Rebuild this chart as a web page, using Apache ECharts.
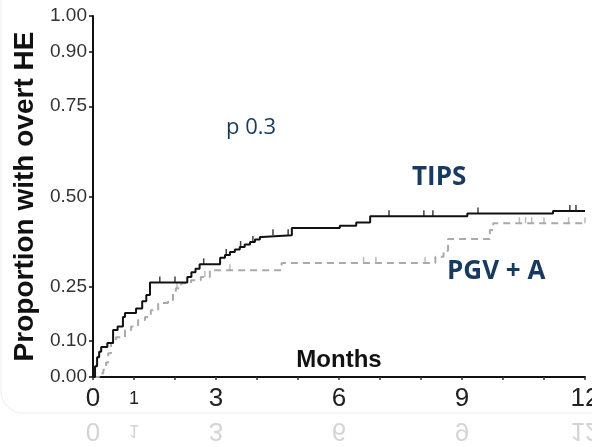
<!DOCTYPE html>
<html>
<head>
<meta charset="utf-8">
<script src="https://cdn.jsdelivr.net/npm/echarts@6/dist/echarts.min.js"></script>
<style>
  html, body { margin: 0; background: #fff; }
  #chart { width: 592px; height: 447px; }
</style>
</head>
<body>
<div id="chart"></div>
<script>
// Kaplan-Meier style cumulative incidence
const tipsTimes = [0, 0.05, 0.1, 0.15, 0.2, 0.35, 0.49, 0.6, 0.73, 0.78, 1.05, 1.2, 1.3, 1.39, 2.3, 2.4, 2.5, 2.6,
  3.1, 3.22, 3.34, 3.46, 3.58, 3.7, 3.83, 3.95, 4.07, 4.12, 4.85, 6.02, 6.42, 6.76, 9.13, 11.22, 12];
const tipsValues = [0, 0.03, 0.055, 0.07, 0.083, 0.094, 0.13, 0.14, 0.166, 0.177, 0.19, 0.21, 0.227, 0.262, 0.277, 0.29, 0.3, 0.312,
  0.33, 0.338, 0.346, 0.353, 0.36, 0.367, 0.374, 0.381, 0.388, 0.393, 0.413, 0.419, 0.428, 0.445, 0.453, 0.46, 0.46];
const tipsCensored = [1.63, 2.0, 2.7, 3.25, 3.6, 3.9, 4.39, 4.76, 7.22, 8.07, 8.29, 9.39, 11.63, 11.78];

const pgvTimes = [0, 0.15, 0.25, 0.32, 0.37, 0.44, 0.56, 0.78, 0.93, 1.1, 1.27, 1.41, 1.59, 1.83, 1.95, 2.02, 2.15, 2.39,
  2.63, 2.85, 4.6, 8.35, 8.55, 8.66, 9.68, 9.76, 12];
const pgvValues = [0, 0.01, 0.02, 0.04, 0.066, 0.094, 0.11, 0.13, 0.14, 0.158, 0.166, 0.185, 0.205, 0.213, 0.232, 0.246, 0.26, 0.268,
  0.277, 0.296, 0.316, 0.333, 0.35, 0.382, 0.407, 0.426, 0.426];
const pgvCensored = [2.05, 2.73, 3.34, 6.6, 6.9, 8.1, 10.4, 10.55, 10.7, 11.0, 11.6, 12.0];

const yTicks = [0, 0.1, 0.25, 0.5, 0.75, 0.9, 1.0];
const xLabelTicks = [0, 1, 3, 6, 9, 12];

const NAVY = "#183a5e";

const stepValueAt = (times, values, t) => {
  let v = values[0];
  times.forEach((time, i) => {
    if (time <= t) v = values[i];
  });
  return v;
};

const zip = (xs, ys) => xs.map((x, i) => [x, ys[i]]);
const censorPoints = (list, times, values) => list.map((t) => [t, stepValueAt(times, values, t)]);

const chart = echarts.init(document.getElementById("chart"));

chart.setOption({
  animation: false,
  backgroundColor: "#fff",
  grid: { left: 93, right: 7, top: 16, bottom: 70, outerBoundsMode: "none", containLabel: false },
  xAxis: {
    type: "value",
    min: 0,
    max: 12,
    interval: 1,
    name: "Months",
    nameLocation: "middle",
    nameGap: -29,
    nameMoveOverlap: false,
    nameTextStyle: { fontFamily: "Liberation Sans", fontWeight: "bold", fontSize: 24, color: "#111" },
    axisLine: { lineStyle: { color: "#111", width: 2 } },
    axisTick: { show: true, length: 3, lineStyle: { color: "#333", width: 1.5 } },
    splitLine: { show: false },
    axisLabel: {
      margin: 9,
      fontFamily: "Liberation Sans",
      fontSize: 26,
      color: "#222",
      formatter: (v) => (v === 1 ? "{s|1}" : xLabelTicks.includes(v) ? String(v) : ""),
      rich: { s: { fontFamily: "Liberation Sans", fontSize: 18, lineHeight: 27, color: "#222" } },
    },
  },
  yAxis: {
    type: "value",
    min: 0,
    max: 1,
    name: "Proportion with overt HE",
    nameLocation: "middle",
    nameGap: 52,
    nameTextStyle: { fontFamily: "Liberation Sans", fontWeight: "bold", fontSize: 28, color: "#111" },
    axisLine: { show: true, lineStyle: { color: "#111", width: 2 } },
    axisTick: { show: true, length: 4, customValues: yTicks, lineStyle: { color: "#111", width: 1.5 } },
    splitLine: { show: false },
    axisLabel: {
      customValues: yTicks,
      margin: 6,
      fontFamily: "Liberation Sans",
      fontSize: 19,
      color: "#333",
      formatter: (v) => v.toFixed(2),
    },
  },
  series: [
    {
      name: "PGV + A",
      type: "line",
      step: "end",
      symbol: "none",
      lineStyle: { color: "#aaa", width: 2, type: [7, 5] },
      data: zip(pgvTimes, pgvValues),
      z: 2,
    },
    {
      name: "TIPS",
      type: "line",
      step: "end",
      symbol: "none",
      lineStyle: { color: "#111", width: 2 },
      data: zip(tipsTimes, tipsValues),
      z: 3,
    },
    {
      type: "scatter",
      symbol: "rect",
      symbolSize: [1.5, 6],
      symbolOffset: [0, -3],
      itemStyle: { color: "#aaa" },
      data: censorPoints(pgvCensored, pgvTimes, pgvValues),
      z: 2,
    },
    {
      type: "scatter",
      symbol: "rect",
      symbolSize: [1.5, 6],
      symbolOffset: [0, -3],
      itemStyle: { color: "#111" },
      data: censorPoints(tipsCensored, tipsTimes, tipsValues),
      z: 3,
    },
  ],
});

// annotations + faint mirrored label strip under the frame
const reflection = xLabelTicks.map((v) => ({
  type: "text",
  x: chart.convertToPixel({ xAxisIndex: 0 }, v),
  y: 430,
  scaleY: -1,
  originY: 0,
  style: {
    text: String(v),
    font: (v === 1 ? "18px" : "26px") + " 'Liberation Sans'",
    fill: "#d4d4d4",
    align: "center",
    verticalAlign: "middle",
  },
  silent: true,
}));

chart.setOption({
  graphic: [
    {
      type: "rect",
      shape: { x: 1, y: -30, width: 620, height: 443, r: 22 },
      style: { fill: "none", stroke: "#ededed", lineWidth: 1 },
      silent: true,
      z: -1,
    },
    {
      type: "text",
      x: 226,
      y: 128,
      style: { text: "p 0.3", font: "22px 'Open Sans'", fill: NAVY, verticalAlign: "middle" },
    },
    {
      type: "text",
      x: 412,
      y: 178,
      style: { text: "TIPS", font: "bold 26px 'Open Sans'", fill: NAVY, verticalAlign: "middle" },
    },
    {
      type: "text",
      x: 447,
      y: 272,
      style: { text: "PGV + A", font: "bold 26px 'Open Sans'", fill: NAVY, verticalAlign: "middle" },
    },
    ...reflection,
  ],
});
</script>
</body>
</html>
